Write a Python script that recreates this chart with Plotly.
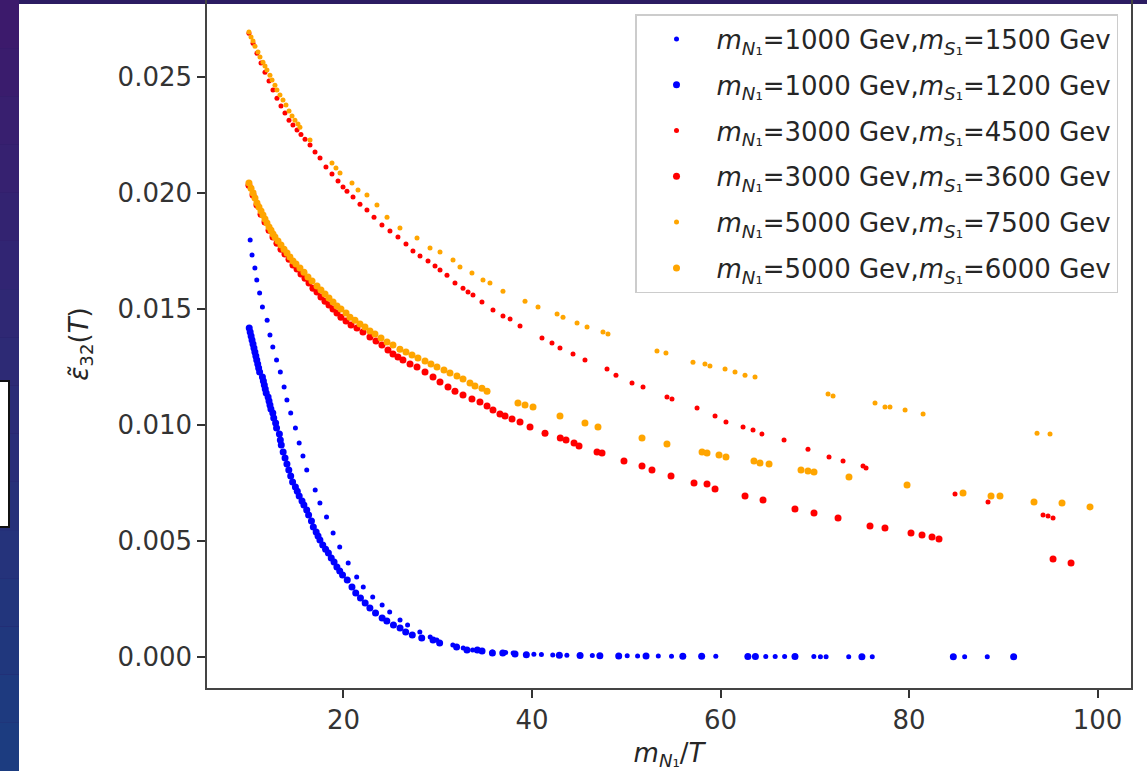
import plotly.graph_objects as go

# ---- values: x = m_N1/T, y = eps~_32(T) ----

# m_N1 = 1000 GeV, m_S1 = 1500 GeV  (small blue dots)
blue_1500_x = [10.1, 10.3, 10.6, 10.8, 11.1, 11.4, 11.9, 12.2, 12.5, 12.9,
               13.3, 13.7, 14.0, 14.4, 14.9, 15.3, 15.7, 16.1, 17.0, 17.5,
               18.2, 18.9, 19.6, 20.5, 21.4, 22.1, 23.1, 24.1, 24.9, 26.0,
               26.8, 28.1, 29.2, 29.9, 31.6, 32.7, 33.7, 35.8, 37.2, 38.0,
               40.2, 41.0, 42.2, 43.7, 46.4, 50.1, 51.2, 53.4, 54.8, 59.5,
               64.8, 65.8, 66.8, 69.9, 70.6, 71.2, 73.6, 76.1, 85.9, 88.3]
blue_1500_y = [0.01797, 0.01733, 0.01677, 0.01625, 0.01569, 0.01509, 0.01452, 0.01388, 0.01336, 0.01280,
               0.01228, 0.01164, 0.01108, 0.01052, 0.00987, 0.00922, 0.00866, 0.00806, 0.00720, 0.00664,
               0.00603, 0.00534, 0.00474, 0.00405, 0.00345, 0.00302, 0.00259, 0.00224, 0.00194, 0.00159,
               0.00138, 0.00108, 0.00086, 0.00073, 0.00052, 0.00039, 0.00030, 0.00022, 0.00019, 0.00017,
               0.00012, 0.00011, 0.00009, 0.00008, 0.00006, 0.00005, 0.00004, 0.00004, 0.00003, 0.00003,
               0.00002, 0.00002, 0.00002, 0.00002, 0.00001, 0.00001, 0.00001, 0.00001, 0.00001, 0.00001]

# m_N1 = 1000 GeV, m_S1 = 1200 GeV  (large blue dots)
blue_1200_x = [10.0, 10.1, 10.2, 10.3, 10.4, 10.5, 10.6, 10.7, 10.8, 10.9, 11.0, 11.1,
               11.4, 11.5, 11.6, 11.7, 11.8,
               12.0, 12.1, 12.2, 12.3, 12.5, 12.6, 12.8, 12.9,
               13.2, 13.3, 13.4, 13.6, 13.8,
               14.0, 14.2, 14.4, 14.6, 14.9,
               15.1, 15.3, 15.6, 15.8,
               16.1, 16.3, 16.6, 16.8,
               17.1, 17.3, 17.5, 17.8,
               18.1, 18.4, 18.7,
               19.0, 19.3, 19.6, 19.9,
               20.4, 20.9, 21.3, 21.8, 22.3, 22.8, 23.4, 24.1, 24.6, 25.3,
               26.0, 26.6, 27.3, 28.3, 29.5, 30.2,
               32.0, 33.1, 34.2, 34.7, 35.8, 36.9, 38.2,
               39.4, 42.9, 45.1, 47.2, 49.2, 52.1, 56.0, 58.0, 62.9, 63.7, 67.9, 75.0, 84.7, 91.1]
blue_1200_y = [0.01418, 0.01401, 0.01384, 0.01366, 0.01349, 0.01332, 0.01315, 0.01297, 0.01280, 0.01263, 0.01246, 0.01228,
               0.01207, 0.01190, 0.01172, 0.01155, 0.01138,
               0.01121, 0.01103, 0.01086, 0.01069, 0.01052, 0.01030, 0.01009, 0.00987,
               0.00961, 0.00935, 0.00914, 0.00884, 0.00858,
               0.00832, 0.00806, 0.00780, 0.00754, 0.00733,
               0.00715, 0.00694, 0.00672, 0.00655,
               0.00634, 0.00612, 0.00586, 0.00560,
               0.00539, 0.00522, 0.00504, 0.00483,
               0.00465, 0.00448, 0.00427,
               0.00409, 0.00388, 0.00371, 0.00353,
               0.00332, 0.00302, 0.00276, 0.00254, 0.00233, 0.00211, 0.00190, 0.00168, 0.00155, 0.00138,
               0.00125, 0.00108, 0.00095, 0.00082, 0.00073, 0.00060,
               0.00043, 0.00030, 0.00030, 0.00026, 0.00017, 0.00017, 0.00013,
               0.00010, 0.00008, 0.00006, 0.00005, 0.00004, 0.00004, 0.00003, 0.00003, 0.00002, 0.00002, 0.00002, 0.00001, 0.00001, 0.00001]

# m_N1 = 3000 GeV, m_S1 = 4500 GeV  (small red dots)
red_4500_x = [9.97, 10.40, 10.82, 11.25, 11.67, 12.10, 12.52, 12.94, 13.37, 13.79,
              14.22, 14.64, 15.07, 15.49, 15.92, 16.45, 16.98, 17.51, 18.14, 18.78,
              19.42, 19.95, 20.37, 21.01, 21.75, 22.49, 23.24, 24.08, 24.93, 25.78,
              26.63, 27.37, 28.12, 28.97, 29.71, 30.24, 30.98, 31.83, 32.68, 33.21,
              33.74, 34.69, 35.86, 36.92, 37.67, 38.73, 41.06, 42.12, 42.97, 44.35,
              45.62, 47.96, 48.91, 50.61, 51.78, 54.32, 54.85, 57.51, 59.42, 60.58,
              62.39, 63.45, 64.40, 66.74, 69.28, 71.51, 73.00, 75.12, 75.44, 84.88,
              88.38, 94.22, 94.75, 95.28]
red_4500_y = [0.02689, 0.02646, 0.02603, 0.02560, 0.02521, 0.02483, 0.02444, 0.02409, 0.02375, 0.02345,
              0.02314, 0.02293, 0.02272, 0.02252, 0.02232, 0.02207, 0.02177, 0.02151, 0.02112, 0.02082,
              0.02052, 0.02026, 0.02008, 0.01983, 0.01952, 0.01927, 0.01896, 0.01862, 0.01836, 0.01810,
              0.01780, 0.01750, 0.01728, 0.01707, 0.01685, 0.01668, 0.01646, 0.01612, 0.01590, 0.01573,
              0.01560, 0.01530, 0.01496, 0.01470, 0.01457, 0.01427, 0.01375, 0.01353, 0.01332, 0.01306,
              0.01280, 0.01241, 0.01215, 0.01181, 0.01164, 0.01121, 0.01112, 0.01073, 0.01039, 0.01013,
              0.00991, 0.00978, 0.00961, 0.00935, 0.00896, 0.00862, 0.00845, 0.00823, 0.00815, 0.00703,
              0.00668, 0.00612, 0.00608, 0.00599]

# m_N1 = 3000 GeV, m_S1 = 3600 GeV  (large red dots)
red_3600_x = [9.97, 10.40, 10.82, 11.25, 11.67, 12.10, 12.52, 12.94, 13.37, 13.79,
              14.22, 14.64, 15.07, 15.49, 15.92, 16.34, 16.76, 17.19, 17.61, 18.04,
              18.46, 18.89, 19.31, 19.73, 20.27, 20.80, 21.43, 22.07, 22.81, 23.45,
              24.08, 24.72, 25.25, 25.78, 26.31, 27.06, 27.80, 28.65, 29.50, 30.24,
              31.09, 31.83, 32.68, 33.63, 34.48, 35.23, 35.86, 36.60, 37.14, 37.88,
              38.73, 39.79, 41.38, 43.00, 43.61, 44.46, 44.99, 46.90, 47.43, 49.76,
              51.67, 52.73, 54.75, 57.19, 58.57, 59.42, 62.60, 64.51, 67.90, 69.92,
              72.47, 75.86, 77.45, 80.21, 81.38, 82.44, 83.18, 95.28, 97.19]
red_3600_y = [0.02034, 0.01991, 0.01948, 0.01909, 0.01875, 0.01840, 0.01810, 0.01784, 0.01758, 0.01737,
              0.01715, 0.01690, 0.01672, 0.01651, 0.01633, 0.01612, 0.01590, 0.01573, 0.01552, 0.01534,
              0.01517, 0.01500, 0.01483, 0.01465, 0.01448, 0.01431, 0.01418, 0.01401, 0.01379, 0.01362,
              0.01345, 0.01323, 0.01306, 0.01293, 0.01280, 0.01263, 0.01250, 0.01228, 0.01207, 0.01185,
              0.01164, 0.01146, 0.01129, 0.01112, 0.01099, 0.01082, 0.01065, 0.01047, 0.01039, 0.01026,
              0.01013, 0.00991, 0.00965, 0.00944, 0.00935, 0.00922, 0.00909, 0.00884, 0.00879, 0.00845,
              0.00823, 0.00806, 0.00780, 0.00750, 0.00746, 0.00724, 0.00694, 0.00677, 0.00638, 0.00621,
              0.00599, 0.00565, 0.00556, 0.00534, 0.00526, 0.00517, 0.00509, 0.00422, 0.00405]

# m_N1 = 5000 GeV, m_S1 = 7500 GeV  (small orange dots)
orange_7500_x = [9.97, 10.19, 10.40, 10.61, 10.93, 11.14, 11.46, 11.67, 11.88, 12.20,
                 12.42, 12.73, 12.94, 13.26, 13.58, 13.90, 14.22, 14.54, 14.85, 15.17,
                 15.38, 16.45, 18.78, 19.20, 19.63, 20.90, 21.54, 22.49, 23.55, 24.62,
                 25.99, 27.80, 29.18, 30.24, 31.62, 32.36, 33.63, 34.80, 35.54, 36.92,
                 39.26, 40.64, 42.66, 43.29, 44.78, 45.84, 47.53, 48.06, 53.26, 54.21,
                 57.08, 58.35, 58.88, 60.48, 61.54, 62.60, 63.66, 71.41, 71.94, 76.39,
                 77.45, 77.98, 79.58, 81.49, 93.58, 94.96]
orange_7500_y = [0.02694, 0.02672, 0.02655, 0.02633, 0.02608, 0.02586, 0.02564, 0.02547, 0.02530, 0.02508,
                 0.02487, 0.02465, 0.02444, 0.02422, 0.02401, 0.02379, 0.02353, 0.02332, 0.02314, 0.02297,
                 0.02284, 0.02228, 0.02129, 0.02108, 0.02086, 0.02043, 0.02013, 0.01991, 0.01948, 0.01896,
                 0.01849, 0.01806, 0.01763, 0.01746, 0.01711, 0.01681, 0.01655, 0.01625, 0.01612, 0.01577,
                 0.01534, 0.01509, 0.01478, 0.01465, 0.01440, 0.01422, 0.01401, 0.01392, 0.01319, 0.01310,
                 0.01271, 0.01263, 0.01254, 0.01241, 0.01228, 0.01215, 0.01207, 0.01134, 0.01125, 0.01095,
                 0.01078, 0.01078, 0.01065, 0.01047, 0.00965, 0.00961]

# m_N1 = 5000 GeV, m_S1 = 6000 GeV  (large orange dots)
orange_6000_x = [9.97, 10.19, 10.40, 10.61, 10.82, 11.03, 11.25, 11.46, 11.67, 11.88,
                 12.10, 12.31, 12.52, 12.73, 13.05, 13.37, 13.69, 14.01, 14.32, 14.64,
                 14.96, 15.38, 15.81, 16.23, 16.66, 17.19, 17.61, 18.04, 18.46, 18.89,
                 19.31, 19.73, 20.27, 20.69, 21.22, 21.75, 22.28, 22.81, 23.34, 23.98,
                 24.62, 25.25, 25.99, 26.63, 27.27, 27.90, 28.65, 29.28, 29.92, 30.66,
                 31.30, 32.04, 32.68, 33.42, 33.95, 34.69, 35.23, 38.51, 39.26, 40.11,
                 42.97, 45.62, 47.00, 51.67, 54.32, 58.04, 58.57, 59.84, 60.58, 63.55,
                 64.19, 65.15, 68.54, 69.28, 69.92, 73.63, 79.79, 85.73, 88.70, 89.65,
                 93.26, 96.23, 99.20]
orange_6000_y = [0.02043, 0.02021, 0.02000, 0.01978, 0.01957, 0.01940, 0.01922, 0.01905, 0.01888, 0.01871,
                 0.01853, 0.01840, 0.01823, 0.01810, 0.01793, 0.01776, 0.01758, 0.01741, 0.01724, 0.01707,
                 0.01694, 0.01677, 0.01659, 0.01638, 0.01621, 0.01599, 0.01582, 0.01565, 0.01547, 0.01530,
                 0.01513, 0.01500, 0.01483, 0.01465, 0.01452, 0.01435, 0.01422, 0.01405, 0.01392, 0.01375,
                 0.01358, 0.01345, 0.01327, 0.01315, 0.01302, 0.01289, 0.01276, 0.01263, 0.01250, 0.01237,
                 0.01224, 0.01211, 0.01198, 0.01181, 0.01168, 0.01159, 0.01146, 0.01095, 0.01086, 0.01078,
                 0.01039, 0.01009, 0.00991, 0.00944, 0.00918, 0.00884, 0.00879, 0.00871, 0.00862, 0.00845,
                 0.00836, 0.00832, 0.00806, 0.00802, 0.00797, 0.00776, 0.00741, 0.00707, 0.00694, 0.00694,
                 0.00668, 0.00664, 0.00647]

M = "<i>m</i><sub><i>N</i>\u2081</sub>"
S = "<i>m</i><sub><i>S</i>\u2081</sub>"
series = [
    (blue_1500_x, blue_1500_y, "#0000ff", 5, f"{M}=1000 Gev,{S}=1500 Gev"),
    (blue_1200_x, blue_1200_y, "#0000ff", 7, f"{M}=1000 Gev,{S}=1200 Gev"),
    (red_4500_x, red_4500_y, "#ff0000", 5, f"{M}=3000 Gev,{S}=4500 Gev"),
    (red_3600_x, red_3600_y, "#ff0000", 7, f"{M}=3000 Gev,{S}=3600 Gev"),
    (orange_7500_x, orange_7500_y, "#ffa500", 5, f"{M}=5000 Gev,{S}=7500 Gev"),
    (orange_6000_x, orange_6000_y, "#ffa500", 7, f"{M}=5000 Gev,{S}=6000 Gev"),
]

W, H = 1147, 771
L, R, T, B = 207, 1131, 0, 688   # plot box in window pixels


def px_x(px):
    return (px - L) / (R - L)


def px_y(py):
    return (B - py) / (B - T)


fig = go.Figure()
for i, (xs, ys, col, size, name) in enumerate(series):
    assert len(xs) == len(ys), name
    fig.add_trace(go.Scatter(
        x=xs, y=ys, mode="markers", name=name, legendgroup=str(i),
        marker=dict(color=col, size=size, line=dict(width=0)),
    ))

# slide background: white card over a purple/blue strip
shapes = []
n_bands = 16
top_c, bot_c = (60, 26, 108), (28, 60, 128)
for k in range(n_bands):
    t = k / (n_bands - 1)
    c = tuple(round(a + (b - a) * t) for a, b in zip(top_c, bot_c))
    shapes.append(dict(type="rect", xref="paper", yref="paper", layer="below",
                       x0=px_x(0), x1=px_x(19), y0=px_y(H * (k + 1) / n_bands), y1=px_y(H * k / n_bands),
                       fillcolor="rgb(%d,%d,%d)" % c, line=dict(width=0)))
shapes.append(dict(type="rect", xref="paper", yref="paper", layer="below",
                   x0=px_x(19), x1=px_x(W), y0=px_y(H), y1=px_y(4),
                   fillcolor="white", line=dict(width=0)))
shapes.append(dict(type="rect", xref="paper", yref="paper", layer="below",
                   x0=px_x(-3), x1=px_x(9), y0=px_y(527), y1=px_y(381),
                   fillcolor="white", line=dict(color="#111111", width=2)))

font_txt = dict(family="DejaVu Sans", size=26, color="#262626")

fig.update_layout(
    width=W, height=H,
    margin=dict(l=L, r=W - R, t=T, b=H - B, pad=0),
    paper_bgcolor="#2c1c62",
    plot_bgcolor="rgba(0,0,0,0)",
    font=font_txt,
    shapes=shapes,
    showlegend=True,
    legend=dict(
        x=px_x(1118), y=px_y(14), xanchor="right", yanchor="top",
        bgcolor="rgba(255,255,255,0.85)", bordercolor="#cccccc", borderwidth=1.5,
        font=dict(family="DejaVu Sans", size=26, color="#262626"),
        traceorder="grouped", tracegroupgap=9, itemwidth=70,
    ),
    xaxis=dict(
        range=[5.52, 103.55], tickvals=[20, 40, 60, 80, 100],
        ticks="outside", ticklen=8, tickwidth=1.5, tickcolor="#333333",
        showline=True, linecolor="#444444", linewidth=1.5, mirror=False,
        showgrid=False, zeroline=False, tickfont=dict(size=26, color="#333333"),
        title=dict(text="<i>m</i><sub><i>N</i>\u2081</sub>/<i>T</i>", standoff=16, font=font_txt),
    ),
    yaxis=dict(
        range=[-0.001336, 0.02832], tickvals=[0, 0.005, 0.01, 0.015, 0.02, 0.025],
        tickformat=".3f",
        ticks="outside", ticklen=8, tickwidth=1.5, tickcolor="#333333",
        showline=True, linecolor="#444444", linewidth=1.5, mirror=True,
        showgrid=False, zeroline=False, tickfont=dict(size=26, color="#333333"),
        title=dict(text="<i>\u03b5\u0303</i><sub>32</sub>(<i>T</i>)", standoff=22, font=font_txt),
    ),
)

# the page body has a default 8px margin; drop it so the figure sits at the window corner
fig.write_html("out.html", config={"displayModeBar": False},
               post_script="document.body.style.margin='0px';")
